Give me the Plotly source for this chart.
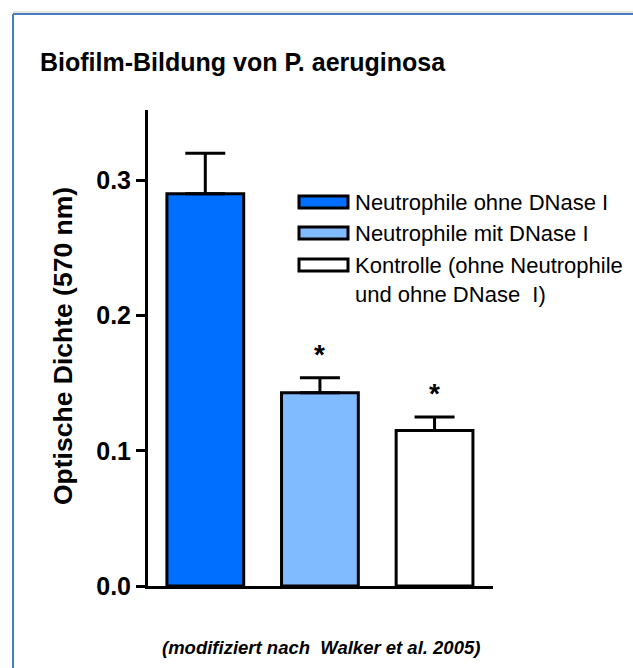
import plotly.graph_objects as go

# ---- data ----
categories = ["Neutrophile ohne DNase I", "Neutrophile mit DNase I",
              "Kontrolle (ohne Neutrophile<br>und ohne DNase\u00a0 I)"]
values = [0.29, 0.143, 0.115]
errors = [0.030, 0.011, 0.010]
significant = [False, True, True]
y_ticks = [0.0, 0.1, 0.2, 0.3]
y_tick_labels = ["0.0", "0.1", "0.2", "0.3"]

colors = ["#006EFF", "#80BBFF", "#FFFFFF"]
FONT = "Liberation Sans, Arial, Helvetica, sans-serif"

W, H = 633, 668
L, R, T, B = 148, 140, 110, 82
pw, ph = W - L - R, H - T - B

def px_x(x):
    return (x - L) / pw

def px_y(y):
    return (H - B - y) / ph

fig = go.Figure()
fig.add_trace(go.Bar(
    x=list(range(len(values))), y=values, width=0.67,
    marker=dict(color=colors, line=dict(color="black", width=3)),
    error_y=dict(type="data", array=errors, arrayminus=[0] * len(errors),
                 symmetric=False, color="black", thickness=3, width=20),
    showlegend=False, hoverinfo="y",
))

annotations = []
# significance asterisks
for i, (v, e, s) in enumerate(zip(values, errors, significant)):
    if s:
        annotations.append(dict(x=i, y=v + e, xref="x", yref="y", text="<b>*</b>",
                                showarrow=False, yanchor="middle", yshift=23,
                                font=dict(family=FONT, size=28, color="black")))

# manual legend (wide swatches like the reference)
shapes = []
row_y = [202, 233, 265]
for c, name, ry in zip(colors, categories, row_y):
    shapes.append(dict(type="rect", xref="paper", yref="paper",
                       x0=px_x(299), x1=px_x(348), y0=px_y(ry + 6), y1=px_y(ry - 6),
                       fillcolor=c, line=dict(color="black", width=3)))
    annotations.append(dict(x=px_x(353), y=px_y(ry - 14), xref="paper", yref="paper",
                            text=name, showarrow=False, xanchor="left", yanchor="top",
                            align="left",
                            font=dict(family=FONT, size=22, color="black")))

# y-axis title
annotations.append(dict(x=px_x(63), y=px_y(346), xref="paper", yref="paper",
                        text="<b>Optische Dichte (570 nm)</b>", textangle=-90,
                        showarrow=False, xanchor="center", yanchor="middle",
                        font=dict(family=FONT, size=26.5, color="black")))
# footnote
annotations.append(dict(x=px_x(321), y=px_y(647), xref="paper", yref="paper",
                        text="<b><i>(modifiziert nach\u00a0 Walker et al. 2005)</i></b>",
                        showarrow=False, xanchor="center", yanchor="middle",
                        font=dict(family=FONT, size=18.5, color="black")))

# blue frame
frame_color = "#4A7EBB"
shapes.append(dict(type="line", xref="paper", yref="paper",
                   x0=px_x(13), x1=px_x(640), y0=px_y(12), y1=px_y(12),
                   line=dict(color="#C8C8C8", width=1)))
shapes.append(dict(type="line", xref="paper", yref="paper",
                   x0=px_x(13), x1=px_x(640), y0=px_y(14), y1=px_y(14),
                   line=dict(color=frame_color, width=2)))
shapes.append(dict(type="line", xref="paper", yref="paper",
                   x0=px_x(13), x1=px_x(13), y0=px_y(14), y1=px_y(680),
                   line=dict(color=frame_color, width=2)))

fig.update_layout(
    width=W, height=H,
    margin=dict(l=L, r=R, t=T, b=B, pad=0),
    paper_bgcolor="white", plot_bgcolor="white",
    title=dict(text="<b>Biofilm-Bildung von P. aeruginosa</b>",
               x=40 / W, xanchor="left", xref="container",
               y=1 - 62 / H, yanchor="middle", yref="container",
               font=dict(family=FONT, size=25, color="black")),
    xaxis=dict(range=[-0.5, 2.51], showticklabels=False, ticks="",
               showline=True, linecolor="black", linewidth=3,
               showgrid=False, zeroline=False, fixedrange=True),
    yaxis=dict(range=[0, 0.352], tickvals=y_ticks, ticktext=y_tick_labels,
               ticks="outside", ticklen=9, tickwidth=2.5, tickcolor="black",
               showline=True, linecolor="black", linewidth=3,
               showgrid=False, zeroline=False,
               tickfont=dict(family=FONT, size=25, color="black", weight="bold")),
    annotations=annotations,
    shapes=shapes,
    showlegend=False,
    bargap=0.33,
)

fig.write_html("out.html", config={"displayModeBar": False},
               post_script="document.body.style.margin='0';document.body.style.overflow='hidden';")
